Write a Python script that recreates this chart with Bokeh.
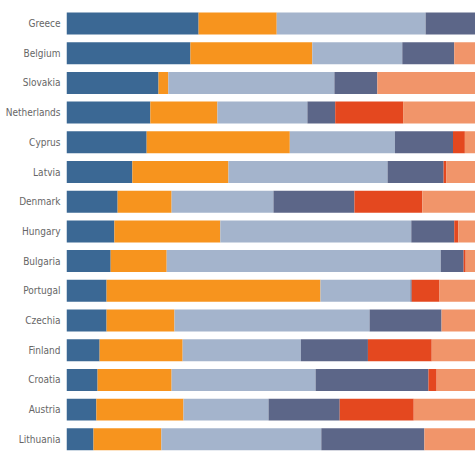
from bokeh.plotting import figure
from bokeh.models import Range1d, FixedTicker, ColumnDataSource
from bokeh.embed import file_html
from bokeh.resources import INLINE

countries = ["Greece", "Belgium", "Slovakia", "Netherlands", "Cyprus", "Latvia",
             "Denmark", "Hungary", "Bulgaria", "Portugal", "Czechia", "Finland",
             "Croatia", "Austria", "Lithuania"]

s1 = [32.3, 30.3, 22.5, 20.5, 19.6, 16.1, 12.5, 11.7, 10.8, 9.8, 9.8, 8.1, 7.6, 7.3, 6.6]
s2 = [19.1, 29.8, 2.4, 16.4, 35.0, 23.5, 13.2, 25.9, 13.7, 52.3, 16.6, 20.3, 18.1, 21.3, 16.6]
s3 = [36.4, 22.0, 40.6, 22.0, 25.7, 38.9, 24.9, 46.7, 67.0, 22.0, 47.7, 28.9, 35.2, 20.8, 39.1]
s4 = [12.2, 12.7, 10.5, 6.8, 14.2, 13.7, 19.8, 10.5, 5.6, 0.3, 17.6, 16.4, 27.6, 17.4, 25.2]
s5 = [0.0, 0.0, 0.0, 16.6, 2.9, 0.7, 16.6, 1.0, 0.5, 6.8, 0.0, 15.6, 2.0, 18.1, 0.0]
s6 = [2.0, 5.2, 24.0, 17.7, 2.6, 7.0, 13.0, 4.2, 2.4, 9.0, 8.3, 10.7, 9.5, 15.1, 12.5]

keys = ["s1", "s2", "s3", "s4", "s5", "s6"]
colors = ["#3b6894", "#f7941e", "#a4b4cc", "#5c6688", "#e4481f", "#f1956a"]

pos = list(range(len(countries)))
source = ColumnDataSource(dict(y=pos, s1=s1, s2=s2, s3=s3, s4=s4, s5=s5, s6=s6))

p = figure(width=475, height=451, output_backend="svg", toolbar_location=None,
           x_range=Range1d(0, 100), y_range=Range1d(14.41, -0.774),
           min_border_left=66, min_border_right=0, min_border_top=0,
           min_border_bottom=0, outline_line_color=None)

p.hbar_stack(keys, y="y", height=0.74, color=colors, source=source, line_width=0)

p.xaxis.visible = False
p.xgrid.visible = False
p.ygrid.visible = False
yax = p.yaxis[0]
yax.ticker = FixedTicker(ticks=pos)
yax.major_label_overrides = {i: c for i, c in zip(pos, countries)}
yax.axis_line_color = None
yax.major_tick_line_color = None
yax.minor_tick_line_color = None
yax.major_tick_out = 0
yax.major_tick_in = 0
yax.major_label_standoff = 6
yax.major_label_text_font = "DejaVu Sans Condensed"
yax.major_label_text_font_size = "10px"
yax.major_label_text_color = "#666666"

open("out.html", "w").write(file_html(p, INLINE))
